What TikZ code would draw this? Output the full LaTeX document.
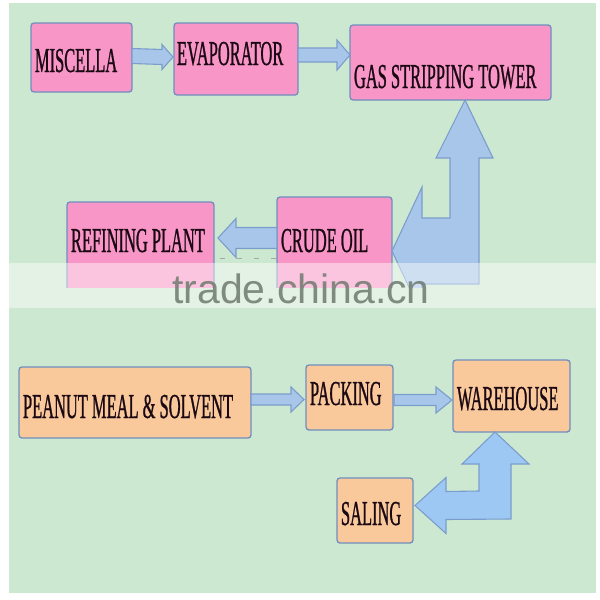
\documentclass[tikz,border=0pt]{standalone}
\usepackage{fontspec}
\newfontfamily\condserif[FakeStretch=0.47, FakeBold=0.7]{Liberation Serif}
\newfontfamily\wmfont{Liberation Sans}
\usetikzlibrary{calc}
\definecolor{bggreen}{HTML}{CDE8D0}
\definecolor{boxpink}{HTML}{F897C7}
\definecolor{boxorange}{HTML}{F9C89B}
\definecolor{boxline}{HTML}{6F8EBE}
\definecolor{arrfill}{HTML}{A8C6E9}
\definecolor{arrline}{HTML}{7A9DCD}
\definecolor{bentfill}{HTML}{9DC8F3}
\definecolor{txtcol}{HTML}{1A0812}
\definecolor{wmcol}{HTML}{6E7A6E}
\tikzset{
  boxbase/.style={draw=boxline, line width=1.3pt, rounded corners=3pt, inner sep=0pt, outer sep=0pt},
  pinkbox/.style={boxbase, fill=boxpink},
  orangebox/.style={boxbase, fill=boxorange},
  label/.style={anchor=base west, inner sep=0pt, outer sep=0pt, text=txtcol, font=\condserif\fontsize{35}{35}\selectfont},
  flatarrow/.style={draw=arrline, fill=arrfill, line width=1.1pt, line join=miter},
  bentarrow/.style={draw=arrline, fill=#1, line width=1.1pt, line join=miter},
}
\newcommand\blkarrowR[5]{\draw[flatarrow] ($(#1)+(0,-#3)$) -- ($(#2)+(-#5,-#3)$) -- ($(#2)+(-#5,-#4)$) -- (#2) -- ($(#2)+(-#5,#4)$) -- ($(#2)+(-#5,#3)$) -- ($(#1)+(0,#3)$) -- cycle;}
\newcommand\blkarrowL[5]{\draw[flatarrow] ($(#1)+(0,-#3)$) -- ($(#2)+(#5,-#3)$) -- ($(#2)+(#5,-#4)$) -- (#2) -- ($(#2)+(#5,#4)$) -- ($(#2)+(#5,#3)$) -- ($(#1)+(0,#3)$) -- cycle;}
\begin{document}
\begin{tikzpicture}[x=1pt, y=-1pt]
\useasboundingbox (0,0) rectangle (600,600);
\fill[white] (0,0) rectangle (600,600);
\fill[bggreen] (9,3) rectangle (596,593);

% top row boxes
\node[pinkbox, minimum width=101pt, minimum height=69pt] (miscella) at (81.5,57.5) {};
\node[pinkbox, minimum width=124pt, minimum height=72pt] (evap) at (236,59) {};
\node[pinkbox, minimum width=201pt, minimum height=75pt] (gas) at (450.5,62.5) {};
\node[label] (tmiscella) at (35,72) {MISCELLA};
\node[label] (tevap) at (177,65) {EVAPORATOR};
\node[label] (tgas) at (354,88) {GAS STRIPPING TOWER};

\coordinate (a1s) at (miscella.east |- 0,56);
\coordinate (a1e) at ($(evap.west |- 0,57)+(-1,0)$);
\blkarrowR{a1s}{a1e}{7.5}{12.5}{11}
\coordinate (a2s) at (evap.east |- 0,55);
\coordinate (a2e) at (gas.west |- 0,55);
\blkarrowR{a2s}{a2e}{7}{15}{13}

% middle row (cut at the seam)
\begin{scope}
\clip (0,0) rectangle (600,287);
\node[pinkbox, minimum width=147pt, minimum height=98pt] (refining) at (140.5,251) {};
\node[pinkbox, minimum width=115pt, minimum height=103pt] (crude) at (334.5,248.5) {};
\node[label] (trefining) at (71,252) {REFINING PLANT};
\node[label] (tcrude) at (281,252) {CRUDE OIL};
\coordinate (a3s) at (crude.west |- 0,238);
\coordinate (a3e) at ($(refining.east |- 0,238)+(4,0)$);
\blkarrowL{a3s}{a3e}{10.5}{19.5}{18}
\draw[gray!70, line width=1pt, dash pattern=on 5pt off 12pt] ($(refining.east |- 0,258)+(6,0)$) -- (crude.west |- 0,258);
% bent arrow crude oil -> gas stripping tower
\coordinate (uptip) at (gas.south -| 465,0);
\coordinate (lefttip) at (crude.east |- 0,251);
\draw[bentarrow=arrfill] (uptip) -- ($(uptip)+(28,58)$) -- ($(uptip)+(14,58)$) -- ($(uptip)+(14,184)$)
  -- ($(lefttip)+(30,33)$) -- ($(lefttip)+(30,64)$) -- (lefttip) -- ($(lefttip)+(30,-64)$)
  -- ($(lefttip)+(30,-33)$) -- ($(uptip)+(-15,118)$) -- ($(uptip)+(-15,58)$) -- ($(uptip)+(-29,58)$) -- cycle;
\end{scope}

% watermark band
\fill[white, opacity=0.45] (9,263) rectangle (596,308);
\node[anchor=base west, inner sep=0pt, text=wmcol, text opacity=0.85, font=\wmfont\fontsize{41}{41}\selectfont] (wm) at (172,303) {trade.china.cn};

% bottom section
\node[orangebox, minimum width=232pt, minimum height=71pt] (peanut) at (135,402.5) {};
\node[orangebox, minimum width=87pt, minimum height=65pt] (packing) at (349.5,397.5) {};
\node[orangebox, minimum width=117pt, minimum height=72pt] (warehouse) at (511.5,396) {};
\node[orangebox, minimum width=76pt, minimum height=65pt] (saling) at (375,510.5) {};
\node[label] (tpeanut) at (23,418) {PEANUT MEAL \& SOLVENT};
\node[label] (tpacking) at (310,405) {PACKING};
\node[label] (twarehouse) at (457,410) {WAREHOUSE};
\node[label] (tsaling) at (341,525) {SALING};

\coordinate (a4s) at (peanut.east |- 0,399.5);
\coordinate (a4e) at ($(packing.west |- 0,399.5)+(-2,0)$);
\blkarrowR{a4s}{a4e}{5.5}{12.5}{13}
\coordinate (a5s) at ($(packing.east |- 0,400)+(1,0)$);
\coordinate (a5e) at ($(warehouse.west |- 0,400)+(-1,0)$);
\blkarrowR{a5s}{a5e}{5.5}{13}{16}

% bent arrow saling -> warehouse
\coordinate (uptip2) at (warehouse.south -| 495,0);
\coordinate (lefttip2) at ($(saling.east |- 0,505.5)+(2,0)$);
\draw[bentarrow=bentfill] (uptip2) -- ($(uptip2)+(34,32)$) -- ($(uptip2)+(16,32)$) -- ($(uptip2)+(16,87)$)
  -- ($(lefttip2)+(31,14)$) -- ($(lefttip2)+(31,28)$) -- (lefttip2) -- ($(lefttip2)+(31,-28)$)
  -- ($(lefttip2)+(31,-14)$) -- ($(uptip2)+(-16,59)$) -- ($(uptip2)+(-16,32)$) -- ($(uptip2)+(-33,32)$) -- cycle;
\end{tikzpicture}
\end{document}
